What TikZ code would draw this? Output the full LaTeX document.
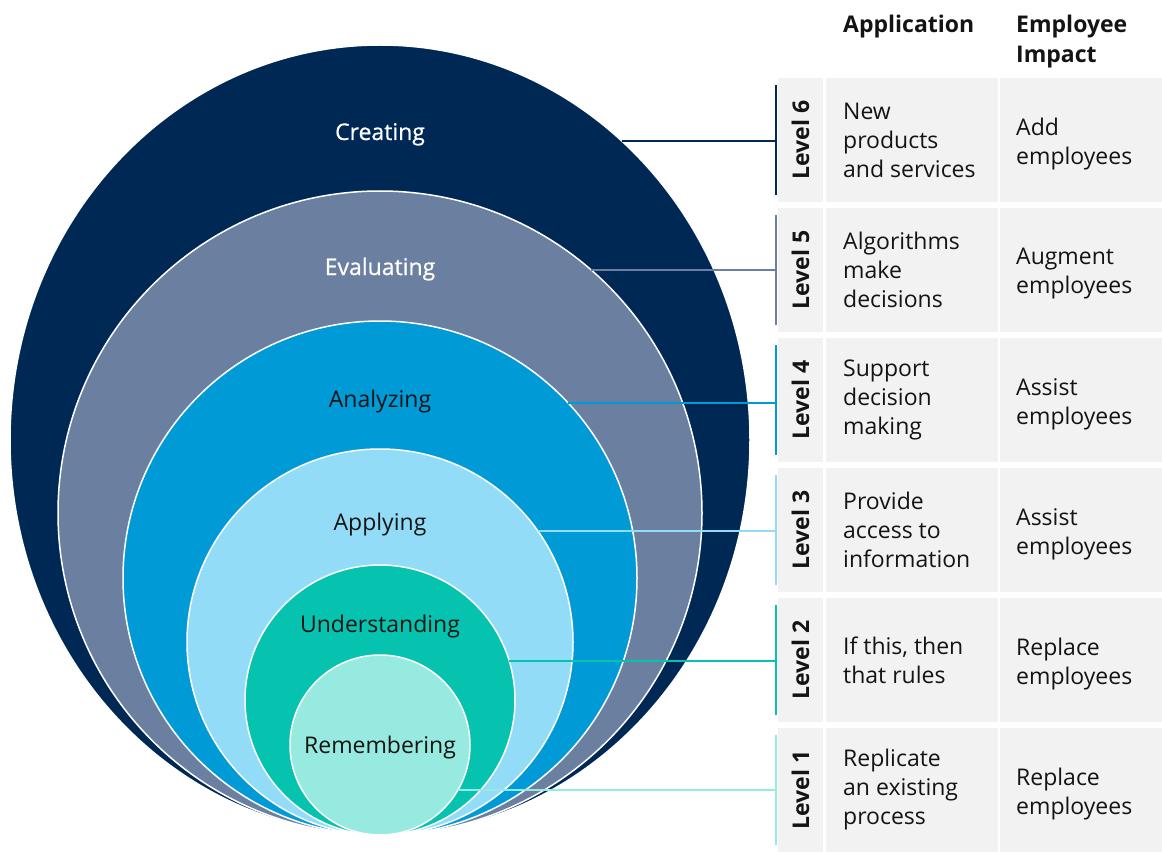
\documentclass[tikz,border=0pt]{standalone}
\usepackage{fontspec}
\setmainfont{Open Sans}
\newfontfamily\ringmedium[FakeBold=0.7]{Open Sans}
\usetikzlibrary{shapes.geometric,positioning}

\definecolor{navy}{RGB}{0,40,85}
\definecolor{slate}{RGB}{107,127,160}
\definecolor{midblue}{RGB}{0,155,215}
\definecolor{skyblue}{RGB}{147,220,248}
\definecolor{teal}{RGB}{6,195,175}
\definecolor{mint}{RGB}{151,234,223}
\definecolor{cellgray}{RGB}{242,242,242}
\definecolor{ink}{RGB}{20,20,20}

\tikzset{
  ring/.style={circle, draw=white, line width=1.5pt, inner sep=0pt, outer sep=0pt},
  ringlabel/.style={font=\fontsize{23}{29}\selectfont, anchor=base, inner sep=0pt},
  darklabel/.style={ringlabel, font=\ringmedium\fontsize{23}{29}\selectfont, text=white},
  cell/.style={rectangle, fill=cellgray, inner sep=0pt, outer sep=0pt, minimum height=124pt},
  levelbox/.style={cell, minimum width=45pt},
  appbox/.style={cell, minimum width=172pt},
  impbox/.style={cell, minimum width=162pt},
  levelbar/.style={rectangle, inner sep=0pt, outer sep=0pt, minimum width=2pt, minimum height=110pt},
  leveltext/.style={font=\fontsize{23}{29}\selectfont\bfseries, rotate=90, inner sep=0pt, text=ink},
  celltext/.style={font=\fontsize{23}{29}\selectfont, align=left, inner sep=0pt, text=ink},
  imptext/.style={celltext, yshift=-4pt},
  headtext/.style={font=\fontsize{23}{30}\selectfont\bfseries, align=left, inner sep=0pt, anchor=north west, text=ink},
  link/.style={line width=2pt},
}

\begin{document}
\begin{tikzpicture}[x=1pt,y=-1pt]
  \useasboundingbox (0,0) rectangle (1162,853);

  % nested rings
  \node[ellipse, draw=white, line width=1.5pt, fill=navy, inner sep=0pt, outer sep=0pt,
        minimum width=740pt, minimum height=790pt] (creating) at (380,440) {};
  \node[ring, fill=slate, minimum size=644pt] (evaluating) at (380,513) {};
  \node[ring, fill=midblue, minimum size=514pt] (analyzing) at (380,578) {};
  \node[ring, fill=skyblue, minimum size=386pt] (applying) at (380,642) {};
  \node[ring, fill=teal, minimum size=270pt] (understanding) at (380,700) {};
  \node[ring, fill=mint, minimum size=180pt] (remembering) at (380,745) {};

  \node[darklabel] (tcreating) at (380,140) {Creating};
  \node[darklabel] (tevaluating) at (380,275) {Evaluating};
  \node[ringlabel, text=ink] (tanalyzing) at (380,407) {Analyzing};
  \node[ringlabel, text=ink] (tapplying) at (380,530) {Applying};
  \node[ringlabel, text=ink] (tunderstanding) at (380,632) {Understanding};
  \node[ringlabel, text=ink] (tremembering) at (380,753) {Remembering};

  % table head
  \node[headtext] (happ) at (843,15) {Application};
  \node[headtext] (himp) at (1016,15) {Employee\\Impact};

  % table rows
  \node[levelbox] (lvl6) at (800.5,140) {};
  \node[appbox] (app6) at (912,140) {};
  \node[impbox] (imp6) at (1081,140) {};
  \node[levelbar, fill=navy] (bar6) at (776,140) {};
  \node[leveltext] (tlvl6) at (lvl6) {Level 6};
  \node[celltext, right=17pt of app6.west] (tapp6) {New\\products\\and services};
  \node[imptext, right=16pt of imp6.west] (timp6) {Add\\employees};

  \node[levelbox] (lvl5) at (800.5,270) {};
  \node[appbox] (app5) at (912,270) {};
  \node[impbox] (imp5) at (1081,270) {};
  \node[levelbar, fill=slate] (bar5) at (776,270) {};
  \node[leveltext] (tlvl5) at (lvl5) {Level 5};
  \node[celltext, right=17pt of app5.west] (tapp5) {Algorithms\\make\\decisions};
  \node[imptext, right=16pt of imp5.west] (timp5) {Augment\\employees};

  \node[levelbox] (lvl4) at (800.5,400) {};
  \node[appbox] (app4) at (912,400) {};
  \node[impbox] (imp4) at (1081,400) {};
  \node[levelbar, fill=midblue] (bar4) at (776,400) {};
  \node[leveltext] (tlvl4) at (lvl4) {Level 4};
  \node[celltext, right=17pt of app4.west] (tapp4) {Support\\decision\\making};
  \node[imptext, right=16pt of imp4.west] (timp4) {Assist\\employees};

  \node[levelbox] (lvl3) at (800.5,530) {};
  \node[appbox] (app3) at (912,530) {};
  \node[impbox] (imp3) at (1081,530) {};
  \node[levelbar, fill=skyblue] (bar3) at (776,530) {};
  \node[leveltext] (tlvl3) at (lvl3) {Level 3};
  \node[celltext, right=17pt of app3.west] (tapp3) {Provide\\access to\\information};
  \node[imptext, right=16pt of imp3.west] (timp3) {Assist\\employees};

  \node[levelbox] (lvl2) at (800.5,660) {};
  \node[appbox] (app2) at (912,660) {};
  \node[impbox] (imp2) at (1081,660) {};
  \node[levelbar, fill=teal] (bar2) at (776,660) {};
  \node[leveltext] (tlvl2) at (lvl2) {Level 2};
  \node[celltext, right=17pt of app2.west] (tapp2) {If this, then\\that rules};
  \node[imptext, right=16pt of imp2.west] (timp2) {Replace\\employees};

  \node[levelbox] (lvl1) at (800.5,790) {};
  \node[appbox] (app1) at (912,790) {};
  \node[impbox] (imp1) at (1081,790) {};
  \node[levelbar, fill=mint] (bar1) at (776,790) {};
  \node[leveltext] (tlvl1) at (lvl1) {Level 1};
  \node[celltext, right=17pt of app1.west] (tapp1) {Replicate\\an existing\\process};
  \node[imptext, right=16pt of imp1.west] (timp1) {Replace\\employees};

  % links from rings to levels
  \begin{scope}[link]
    \draw[navy] (creating.51.26) -- (creating.51.26 -| bar6.center);
    \draw[slate] (evaluating.49) -- (evaluating.49 -| bar5.center);
    \draw[midblue] (analyzing.43.83) -- (analyzing.43.83 -| bar4.center);
    \draw[skyblue] (applying.35.47) -- (applying.35.47 -| bar3.center);
    \draw[teal] (understanding.17.24) -- (understanding.17.24 -| bar2.center);
    \draw[mint] (remembering.-30) -- (remembering.-30 -| bar1.center);
  \end{scope}
\end{tikzpicture}
\end{document}
